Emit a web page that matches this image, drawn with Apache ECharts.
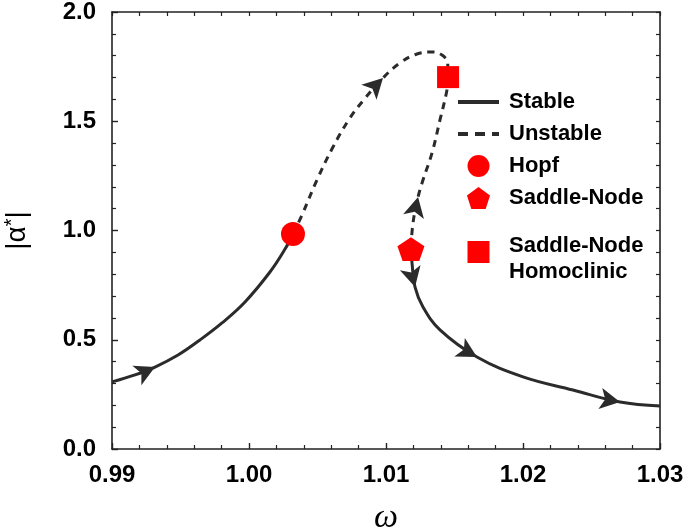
<!DOCTYPE html>
<html>
<head>
<meta charset="utf-8">
<script src="https://cdn.jsdelivr.net/npm/echarts@6/dist/echarts.min.js"></script>
<style>
html,body{margin:0;padding:0;background:#fff;}
#c{width:685px;height:528px;}
</style>
</head>
<body>
<div id="c"></div>
<script>
// ---- data ----
var xTicks = [0.99, 1.00, 1.01, 1.02, 1.03];
var yTicks = [0.0, 0.5, 1.0, 1.5, 2.0];

var stableLeft = [[0.99,0.307],[0.99168,0.339],[0.99314,0.375],[0.99482,0.430],[0.99642,0.499],[0.99803,0.577],[0.99971,0.673],[1.00153,0.810],[1.00263,0.915],[1.00321,0.984]];
var unstable = [[1.00321,0.984],[1.00387,1.071],[1.00496,1.231],[1.00613,1.382],[1.00737,1.515],[1.00847,1.605],[1.00978,1.698],[1.01102,1.767],[1.01226,1.808],[1.01343,1.817],[1.01409,1.803],[1.01450,1.767],[1.01453,1.702],[1.01445,1.643],[1.01394,1.506],[1.01336,1.355],[1.01270,1.231],[1.01234,1.153],[1.01197,1.034],[1.01182,0.915]];
var stableRight = [[1.01182,0.915],[1.01190,0.851],[1.01212,0.741],[1.01270,0.650],[1.01394,0.545],[1.01664,0.421],[1.02000,0.330],[1.02365,0.270],[1.02708,0.215],[1.03,0.197]];

var hopf = [[1.00321,0.984]];
var saddleNode = [[1.01182,0.915]];
var snHomoclinic = [[1.01453,1.702]];

// arrows: [branch, index of point, direction (+1 forward along array, -1 backward)]
var arrowSpec = [['stableLeft',2,1],['unstable',6,1],['unstable',17,-1],['stableRight',2,1],['stableRight',5,1],['stableRight',8,1]];

var legendNames = ['Stable','Unstable','Hopf','Saddle-Node','SNH'];
// ---------------------------------------

var branches = {stableLeft: stableLeft, unstable: unstable, stableRight: stableRight};
var FONT = '"Liberation Sans", Arial, Helvetica, sans-serif';
var LINE = '#2b2b2b';
var RED = '#ff0000';
var pentagon = 'path://M0,-10 L9.511,-3.09 L5.878,8.09 L-5.878,8.09 L-9.511,-3.09 Z';
var square = 'path://M0,0 L10,0 L10,10 L0,10 Z';

var chart = echarts.init(document.getElementById('c'), null, {renderer:'canvas'});

function axisCommon(){
  return {
    type:'value',
    axisLine:{show:true, onZero:false, lineStyle:{color:'#222', width:1.6}},
    splitLine:{show:false}
  };
}

var xMain = Object.assign(axisCommon(), {
  position:'bottom', min:xTicks[0], max:xTicks[xTicks.length-1], interval:0.01,
  axisTick:{show:true, inside:true, length:6, lineStyle:{color:'#222', width:1.4}},
  minorTick:{show:true, splitNumber:5, length:4, lineStyle:{color:'#222', width:1.2}},
  axisLabel:{margin:14, fontSize:24, fontWeight:'bold', color:'#000', fontFamily:FONT,
    formatter:function(v){return v.toFixed(2);}},
  name:'ω', nameLocation:'middle', nameGap:52,
  nameTextStyle:{fontSize:34, fontStyle:'italic', fontFamily:'"Liberation Serif", serif', color:'#000'}
});
var xTop = Object.assign(axisCommon(), {
  position:'top', min:xTicks[0], max:xTicks[xTicks.length-1], interval:0.002,
  axisTick:{show:true, inside:true, length:4, lineStyle:{color:'#222', width:1.2}},
  axisLabel:{show:false}
});
var yMain = Object.assign(axisCommon(), {
  position:'left', min:yTicks[0], max:yTicks[yTicks.length-1], interval:0.5,
  axisTick:{show:true, inside:true, length:6, lineStyle:{color:'#222', width:1.4}},
  minorTick:{show:true, splitNumber:5, length:4, lineStyle:{color:'#222', width:1.2}},
  axisLabel:{margin:16, fontSize:24, fontWeight:'bold', color:'#000', fontFamily:FONT,
    formatter:function(v){return v.toFixed(1);}},
  name:'|α{sup|*}|', nameLocation:'middle', nameRotate:90, nameGap:80,
  nameTextStyle:{fontSize:28, fontFamily:FONT, color:'#000', lineHeight:30,
    rich:{sup:{fontSize:20, fontFamily:FONT, color:'#000', lineHeight:10, verticalAlign:'top'}}}
});
var yRight = Object.assign(axisCommon(), {
  position:'right', min:yTicks[0], max:yTicks[yTicks.length-1], interval:0.1,
  axisTick:{show:true, inside:true, length:4, lineStyle:{color:'#222', width:1.2}},
  axisLabel:{show:false}
});

var option = {
  animation:false,
  backgroundColor:'#fff',
  grid:{left:112, right:25, top:12, bottom:79, containLabel:false, outerBoundsMode:'none'},
  xAxis:[xMain, xTop],
  yAxis:[yMain, yRight],
  legend:{
    data:[
      {name:'Stable', itemStyle:{opacity:0}, lineStyle:{width:4}},
      {name:'Unstable', itemStyle:{opacity:0}, lineStyle:{width:4, type:[10,7]}},
      {name:'Hopf'},
      {name:'Saddle-Node'},
      {name:'SNH'}
    ],
    orient:'vertical', left:456, top:89, padding:0,
    itemWidth:41, itemHeight:22, itemGap:6,
    textStyle:{fontSize:22, fontWeight:'bold', fontFamily:FONT, color:'#000', lineHeight:26, padding:[0,0,0,5],
      rich:{
        twoa:{fontSize:22, fontWeight:'bold', fontFamily:FONT, color:'#000', lineHeight:40, verticalAlign:'bottom'},
        two:{fontSize:22, fontWeight:'bold', fontFamily:FONT, color:'#000', lineHeight:30}
      }},
    formatter:function(n){ return n==='SNH' ? '{twoa|Saddle-Node}\n{two|Homoclinic}' : n; }
  },
  series:[
    {name:'Stable', type:'line', data:stableLeft, smooth:0.4, symbol:'none', z:2,
      lineStyle:{color:LINE, width:3}, itemStyle:{color:LINE}},
    {name:'Stable', type:'line', data:stableRight, smooth:0.4, symbol:'none', z:2,
      lineStyle:{color:LINE, width:3}, itemStyle:{color:LINE}},
    {name:'Unstable', type:'line', data:unstable, smooth:0.4, symbol:'none', z:2,
      lineStyle:{color:LINE, width:3, type:[7,6]}, itemStyle:{color:LINE}},
    {name:'arrows', type:'scatter', data:[], symbol:'arrow', symbolSize:[16,20], z:3,
      itemStyle:{color:LINE, opacity:1}},
    {name:'Hopf', type:'scatter', data:hopf, symbol:'circle', symbolSize:24, z:4, itemStyle:{color:RED, opacity:1}},
    {name:'Saddle-Node', type:'scatter', data:saddleNode, symbol:pentagon, symbolSize:[27,25], symbolKeepAspect:true, z:4, itemStyle:{color:RED, opacity:1}},
    {name:'SNH', type:'scatter', data:snHomoclinic, symbol:square, symbolSize:22, symbolKeepAspect:true, z:4, itemStyle:{color:RED, opacity:1}}
  ]
};
chart.setOption(option);

// orient arrow heads along the curve (pixel space)
var arrowData = arrowSpec.map(function(s){
  var arr = branches[s[0]], i = s[1], dir = s[2];
  var a = chart.convertToPixel({gridIndex:0}, arr[Math.max(0,i-1)]);
  var b = chart.convertToPixel({gridIndex:0}, arr[Math.min(arr.length-1,i+1)]);
  var dx = (b[0]-a[0])*dir, dy = -(b[1]-a[1])*dir;
  var ang = Math.atan2(dy, dx)*180/Math.PI - 90;
  return {value:arr[i], symbolRotate:ang};
});
chart.setOption({series:[{},{},{},{data:arrowData}]});
</script>
</body>
</html>
